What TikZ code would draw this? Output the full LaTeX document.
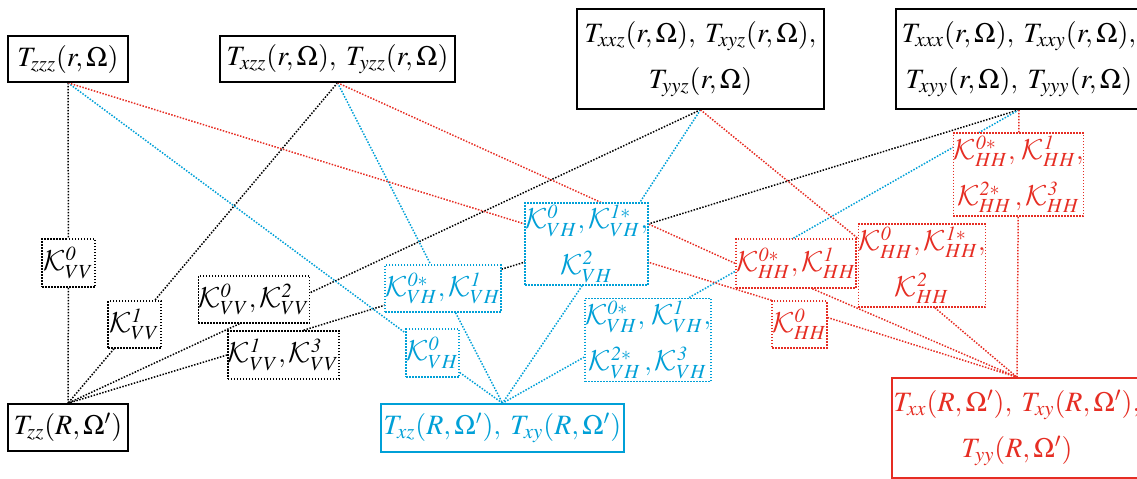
\documentclass[tikz,border=0pt]{standalone}
\usepackage{mathptmx}
\usepackage{tikz}
\usetikzlibrary{backgrounds}
\DeclareSymbolFont{cmsyfont}{OMS}{cmsy}{m}{n}
\DeclareSymbolFontAlphabet{\mathcal}{cmsyfont}
\definecolor{kblue}{RGB}{0,160,215}
\definecolor{kred}{RGB}{230,45,35}

\begin{document}
\begin{tikzpicture}[
    x=0.5pt, y=-0.5pt,
    tbox/.style={rectangle, draw, line width=0.8pt, fill=white, inner sep=0pt, align=center, font=\fontsize{14}{23}\selectfont},
    kbox/.style={rectangle, draw, line width=0.75pt, dash pattern=on 0.75pt off 0.75pt, fill=white, inner sep=0pt, align=center, font=\fontsize{13.5}{23}\selectfont},
    link/.style={line width=0.75pt, dash pattern=on 0.75pt off 0.75pt},
]
\useasboundingbox (0,0) rectangle (1137,478);

% Source terms (top row)
\node[tbox, minimum width=60pt, minimum height=23pt] (tzzz) at (68,59) {$T_{zzz}(r,\Omega)$};
\node[tbox, minimum width=117.5pt, minimum height=23pt] (txzz) at (337.5,59) {$T_{xzz}(r,\Omega),\;T_{yzz}(r,\Omega)$};
\node[tbox, minimum width=123.5pt, minimum height=50pt] (txxz) at (700.5,59) {$T_{xxz}(r,\Omega),\;T_{xyz}(r,\Omega),$\\$T_{yyz}(r,\Omega)$};
\node[tbox, minimum width=123pt, minimum height=50pt] (txxx) at (1019,59) {$T_{xxx}(r,\Omega),\;T_{xxy}(r,\Omega),$\\$T_{xyy}(r,\Omega),\;T_{yyy}(r,\Omega)$};

% Received terms (bottom row)
\node[tbox, minimum width=60pt, minimum height=23.5pt] (tzz) at (68,427.5) {$T_{zz}(R,\Omega')$};
\node[tbox, draw=kblue, text=kblue, minimum width=121.5pt, minimum height=24pt] (txzxy) at (502.5,428) {$T_{xz}(R,\Omega'),\;T_{xy}(R,\Omega')$};
\node[tbox, draw=kred, text=kred, minimum width=125pt, minimum height=50pt] (txxxy) at (1017,428) {$T_{xx}(R,\Omega'),\;T_{xy}(R,\Omega'),$\\$T_{yy}(R,\Omega')$};

% VV kernels
\node[kbox, minimum width=26.5pt, minimum height=24pt] (kvv0) at (68.5,263) {$\mathcal{K}^{\mathit{0}}_{VV}$};
\node[kbox, minimum width=26.5pt, minimum height=23.5pt] (kvv1) at (134.5,324.5) {$\mathcal{K}^{\mathit{1}}_{VV}$};
\node[kbox, minimum width=50pt, minimum height=23.5pt] (kvv02) at (254,299.5) {$\mathcal{K}^{\mathit{0}}_{VV},\mathcal{K}^{\mathit{2}}_{VV}$};
\node[kbox, minimum width=50.5pt, minimum height=24pt] (kvv13) at (283.5,355) {$\mathcal{K}^{\mathit{1}}_{VV},\mathcal{K}^{\mathit{3}}_{VV}$};

% VH kernels
\node[kbox, draw=kblue, text=kblue, minimum width=60.5pt, minimum height=41pt] (kvh012) at (586.5,244) {$\mathcal{K}^{\mathit{0}}_{VH},\mathcal{K}^{\mathit{1}*}_{VH},$\\$\mathcal{K}^{\mathit{2}}_{VH}$};
\node[kbox, draw=kblue, text=kblue, minimum width=50pt, minimum height=23.5pt] (kvh01) at (443,288.5) {$\mathcal{K}^{\mathit{0}*}_{VH},\mathcal{K}^{\mathit{1}}_{VH}$};
\node[kbox, draw=kblue, text=kblue, minimum width=26.5pt, minimum height=24pt] (kvh0) at (432.5,353) {$\mathcal{K}^{\mathit{0}}_{VH}$};
\node[kbox, draw=kblue, text=kblue, minimum width=61pt, minimum height=41.5pt] (kvh0123) at (648,340) {$\mathcal{K}^{\mathit{0}*}_{VH},\,\mathcal{K}^{\mathit{1}}_{VH},$\\$\mathcal{K}^{\mathit{2}*}_{VH}\,,\mathcal{K}^{\mathit{3}}_{VH}$};

% HH kernels
\node[kbox, draw=kred, text=kred, minimum width=60.5pt, minimum height=41.5pt] (khh0123) at (1018.5,174.5) {$\mathcal{K}^{\mathit{0}*}_{HH},\,\mathcal{K}^{\mathit{1}}_{HH},$\\$\mathcal{K}^{\mathit{2}*}_{HH}\,,\mathcal{K}^{\mathit{3}}_{HH}$};
\node[kbox, draw=kred, text=kred, minimum width=61pt, minimum height=41.5pt] (khh012) at (922,265.5) {$\mathcal{K}^{\mathit{0}}_{HH},\mathcal{K}^{\mathit{1}*}_{HH},$\\$\mathcal{K}^{\mathit{2}}_{HH}$};
\node[kbox, draw=kred, text=kred, minimum width=52pt, minimum height=24.5pt] (khh01) at (796,263.5) {$\mathcal{K}^{\mathit{0}*}_{HH},\mathcal{K}^{\mathit{1}}_{HH}$};
\node[kbox, draw=kred, text=kred, minimum width=26.5pt, minimum height=23.5pt] (khh0) at (799.5,324.5) {$\mathcal{K}^{\mathit{0}}_{HH}$};

% Links
\begin{scope}[on background layer]
\draw[link] (tzzz.south) -- (kvv0);
\draw[link] (kvv0) -- (tzz.north);
\draw[link] (txzz.south) -- (kvv1);
\draw[link] (kvv1) -- (tzz.north);
\draw[link] (txxz.south) -- (kvv02.7);
\draw[link] (kvv02.239) -- (tzz.north);
\draw[link] (txxx.south) -- (kvv13.51);
\draw[link] (kvv13.west) -- (tzz.north);

\draw[link, kblue] (tzzz.south) -- (kvh0);
\draw[link, kblue] (kvh0) -- (txzxy.north);
\draw[link, kblue] (txzz.south) -- (kvh01);
\draw[link, kblue] (kvh01) -- (txzxy.north);
\draw[link, kblue] (txxz.south) -- (kvh012.38);
\draw[link, kblue] (kvh012.264) -- (txzxy.north);
\draw[link, kblue] (txxx.south) -- (kvh0123.46);
\draw[link, kblue] (kvh0123.195) -- (txzxy.north);

\draw[link, kred] (tzzz.south) -- (khh0.north west);
\draw[link, kred] (khh0.14) -- (txxxy.north);
\draw[link, kred] (txzz.south) -- (khh01.west);
\draw[link, kred] (khh01.303) -- (txxxy.north);
\draw[link, kred] (txxz.south) -- (khh012.157);
\draw[link, kred] (khh012.287) -- (txxxy.north);
\draw[link, kred] (txxx.south) -- (khh0123);
\draw[link, kred] (khh0123) -- (txxxy.north);
\end{scope}

\end{tikzpicture}
\end{document}
